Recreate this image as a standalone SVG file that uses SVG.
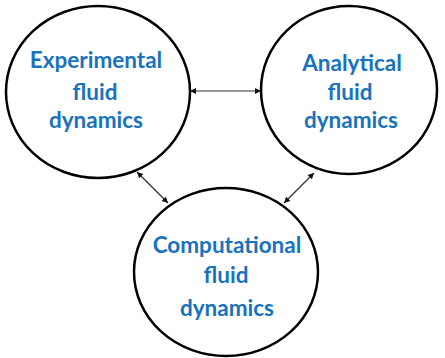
<svg xmlns="http://www.w3.org/2000/svg" width="445" height="358" viewBox="0 0 445 358">
<defs>
<style>
.node{fill:#fff;stroke:#000;stroke-width:2.5}
.lbl{font-family:Lato,"Open Sans","Liberation Sans",sans-serif;font-weight:bold;font-size:22.5px;fill:#1872bd;text-anchor:middle}
.conn{stroke:#333;stroke-width:1.2;fill:none;marker-start:url(#ah);marker-end:url(#ah)}
</style>
<marker id="ah" viewBox="0 0 10 10" refX="10" refY="5" markerWidth="7" markerHeight="6" markerUnits="userSpaceOnUse" orient="auto-start-reverse">
<path d="M0,0 L10,5 L0,10 z" fill="#111"/>
</marker>
</defs>
<rect width="445" height="358" fill="#fff"/>
<g id="connectors">
<line class="conn" x1="190" y1="91" x2="261" y2="91"/>
<line class="conn" x1="137" y1="172" x2="168" y2="203"/>
<line class="conn" x1="314" y1="173" x2="284" y2="203"/>
</g>
<g id="experimental">
<ellipse class="node" cx="98" cy="92" rx="92" ry="86"/>
<text class="lbl" x="96" y="68">Experimental</text>
<text class="lbl" x="95" y="100">fluid</text>
<text class="lbl" x="96" y="128">dynamics</text>
</g>
<g id="analytical">
<ellipse class="node" cx="349" cy="90" rx="88" ry="84"/>
<text class="lbl" x="352" y="71">Analytical</text>
<text class="lbl" x="350" y="100">fluid</text>
<text class="lbl" x="351" y="128">dynamics</text>
</g>
<g id="computational">
<ellipse class="node" cx="226" cy="272" rx="92" ry="84"/>
<text class="lbl" x="227" y="253">Computational</text>
<text class="lbl" x="226" y="283">fluid</text>
<text class="lbl" x="227" y="316">dynamics</text>
</g>
</svg>
